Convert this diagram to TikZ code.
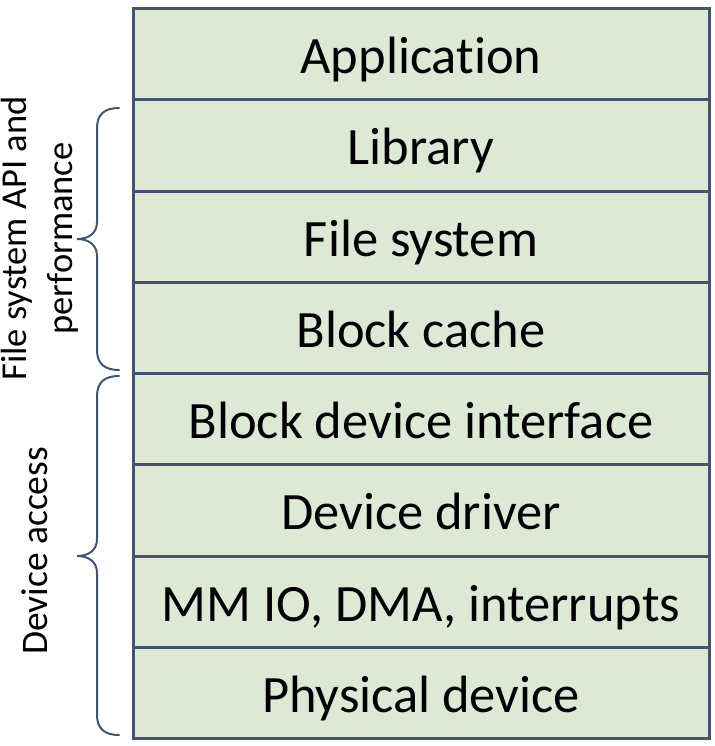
\documentclass[tikz,border=0pt]{standalone}
\usepackage{fontspec}
\setmainfont{Carlito}[Ligatures=NoCommon]
\definecolor{edge}{RGB}{68,84,106}
\definecolor{layerfill}{RGB}{221,232,213}
\begin{document}
\begin{tikzpicture}[x=1pt,y=-1pt,
  layer/.style={draw=edge, fill=layerfill, line width=3pt,
    minimum width=576pt, minimum height=91.25pt, inner sep=0pt,
    text height=39pt, text depth=0pt, anchor=north,
    font=\fontsize{52.5}{63}\selectfont},
  sidelabel/.style={rotate=90, anchor=base, inner sep=0pt,
    font=\fontsize{36.5}{44.5}\selectfont},
  bracepath/.style={draw=edge, line width=2pt, line cap=round}]
\useasboundingbox (0,0) rectangle (714,746);

% protocol stack, top to bottom
\node[layer] (app)  at (421,7)      {Application};
\node[layer] (lib)  at (421,98.25)  {Library};
\node[layer] (fs)   at (421,189.5)  {File system};
\node[layer] (bc)   at (421,280.75) {Block cache};
\node[layer] (bdi)  at (421,372)    {Block device interface};
\node[layer] (drv)  at (421,463.25) {Device driver};
\node[layer] (mmio) at (421,554.5)  {MM IO, DMA, interrupts};
\node[layer] (phys) at (421,645.75) {Physical device};

% upper brace: library to block cache
\draw[bracepath] (119,108) .. controls (105,108) and (97,114) .. (97,128)
  -- (97,222) .. controls (97,233) and (89,239) .. (77,239)
  .. controls (89,239) and (97,245) .. (97,256)
  -- (97,350) .. controls (97,364) and (105,370) .. (119,370);

% lower brace: block device interface to physical device
\draw[bracepath] (119,376) .. controls (105,376) and (97,382) .. (97,396)
  -- (97,539) .. controls (97,550) and (89,556) .. (77,556)
  .. controls (89,556) and (97,562) .. (97,573)
  -- (97,715) .. controls (97,729) and (105,735) .. (119,735);

% brace labels
\node[sidelabel] (fsapi1) at (27,238.5) {File system API and};
\node[sidelabel] (fsapi2) at (72,238.5) {performance};
\node[sidelabel, font=\fontsize{37.5}{45}\selectfont] (devacc) at (47,551) {Device access};
\end{tikzpicture}
\end{document}
